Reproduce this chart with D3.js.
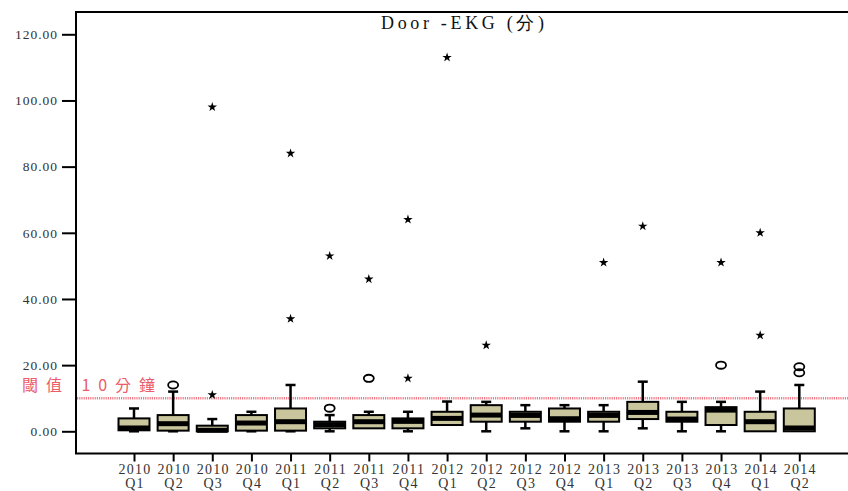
<!DOCTYPE html>
<html>
<head>
<meta charset="utf-8">
<script src="https://cdn.jsdelivr.net/npm/d3@7"></script>
<style>
  body { margin: 0; background: #fff; }
  svg { display: block; }
</style>
</head>
<body>
<svg id="chart"></svg>
<script>
// quarters on the x axis
const years    = ["2010","2010","2010","2010","2011","2011","2011","2011","2012","2012","2012","2012","2013","2013","2013","2013","2014","2014"];
const quarters = ["Q1","Q2","Q3","Q4","Q1","Q2","Q3","Q4","Q1","Q2","Q3","Q4","Q1","Q2","Q3","Q4","Q1","Q2"];

// box statistics, minutes
const whiskerLow  = [0,   0,   0,   0,   0,   0,   0.9, 0,   1.9, 0,   0.9, 0,   0,   0.9, 0,   0,   0,   0];
const q1          = [0.3, 0.2, 0,   0.2, 0.2, 0.9, 0.9, 0.9, 1.9, 2.9, 2.9, 2.9, 2.9, 3.7, 2.9, 1.9, 0,   0];
const medians     = [1,   2.3, 0.3, 2.5, 2.9, 2,   2.9, 3,   3.9, 4.9, 4.8, 3.8, 4.8, 5.7, 3.7, 6.4, 2.9, 1];
const q3          = [3.9, 4.9, 1.7, 4.9, 6.9, 2.9, 4.9, 3.9, 5.9, 7.9, 5.9, 6.9, 5.9, 8.9, 5.9, 7.3, 5.9, 6.9];
const whiskerHigh = [6.9, 12,  3.7, 5.9, 14,  4.9, 5.9, 5.9, 9,   8.9, 7.9, 7.9, 7.9, 15,  8.9, 8.9, 12,  14];

// outliers (circles) and extremes (stars)
const outliers = [[], [14], [], [], [], [7], [16], [], [], [], [], [], [], [], [], [20], [], [17.7, 19.5]];
const extremes = [[], [], [11, 98], [], [34, 84], [53], [46], [16, 64], [113], [26], [], [], [51], [62], [], [51], [29, 60], []];

const yTicks = [0, 20, 40, 60, 80, 100, 120];
const threshold = 10;
const titleText = "Door -EKG (分)";
const thresholdText = "閾值 10分鐘";

const width = 848, height = 491;
const plotLeft = 76, plotTop = 12, plotBottom = 453.5;

const svg = d3.select("#chart").attr("width", width).attr("height", height);

const cats = years.map((y, i) => y + " " + quarters[i]);
const rows = cats.map((c, i) => ({
  cat: c, year: years[i], q: quarters[i],
  lo: whiskerLow[i], q1: q1[i], med: medians[i], q3: q3[i], hi: whiskerHigh[i],
  out: outliers[i], ext: extremes[i]
}));

const x = d3.scalePoint().domain(cats).range([134, 799.3]);
const y = d3.scaleLinear().domain([0, 120]).range([431.3, 34.3]);

const boxW = 31, capW = 10;
const serif = "'Liberation Serif', 'Times New Roman', serif";

// frame (right edge falls off the page)
svg.append("path")
  .attr("d", `M${width + 5},${plotTop}H${plotLeft}V${plotBottom}H${width + 5}`)
  .attr("fill", "none").attr("stroke", "#000").attr("stroke-width", 2);

// y axis
const yAxis = svg.append("g")
  .attr("transform", `translate(${plotLeft},0)`)
  .call(d3.axisLeft(y).tickValues(yTicks).tickFormat(d3.format(".2f")).tickSize(14).tickPadding(4));
yAxis.select(".domain").remove();
yAxis.selectAll(".tick line").attr("stroke", "#000").attr("stroke-width", 2);
yAxis.selectAll(".tick text")
  .attr("fill", "#333")
  .style("font-family", serif)
  .style("font-size", "13.5px")
  .style("letter-spacing", "1px");

// x axis
const xAxis = svg.append("g")
  .attr("transform", `translate(0,${plotBottom})`)
  .call(d3.axisBottom(x).tickSize(8).tickFormat(""));
xAxis.select(".domain").remove();
xAxis.selectAll(".tick line").attr("stroke", "#000").attr("stroke-width", 2);
xAxis.selectAll(".tick text").remove();

const xl = svg.append("g")
  .style("font-family", serif)
  .style("font-size", "14px")
  .style("letter-spacing", "1.3px")
  .attr("fill", "#333");
rows.forEach(d => {
  const t = xl.append("text").attr("text-anchor", "middle");
  t.append("tspan").attr("x", x(d.cat) + 1).attr("y", 474).text(d.year);
  t.append("tspan").attr("x", x(d.cat) + 1).attr("y", 488).text(d.q);
});

// threshold line
svg.append("line")
  .attr("x1", plotLeft + 1).attr("x2", width)
  .attr("y1", y(threshold)).attr("y2", y(threshold))
  .attr("stroke", "#f07c88").attr("stroke-width", 2.5)
  .attr("stroke-dasharray", "1.2,1");

svg.append("text")
  .attr("x", 22).attr("y", 391)
  .attr("fill", "#ec5c6a")
  .attr("textLength", 133).attr("lengthAdjust", "spacing")
  .style("font-family", "'Noto Sans CJK TC', sans-serif")
  .style("font-size", "16px")
  .text(thresholdText);

// boxes
const g = svg.append("g");
const box = g.selectAll(".box").data(rows).join("g").attr("class", "box");

box.append("line")
  .attr("x1", d => x(d.cat)).attr("x2", d => x(d.cat))
  .attr("y1", d => y(d.hi)).attr("y2", d => y(d.q3))
  .attr("stroke", "#000").attr("stroke-width", 2.5);
box.append("line")
  .attr("x1", d => x(d.cat)).attr("x2", d => x(d.cat))
  .attr("y1", d => y(d.q1)).attr("y2", d => y(d.lo))
  .attr("stroke", "#000").attr("stroke-width", 2.5);
box.append("line")
  .attr("x1", d => x(d.cat) - capW / 2).attr("x2", d => x(d.cat) + capW / 2)
  .attr("y1", d => y(d.hi)).attr("y2", d => y(d.hi))
  .attr("stroke", "#000").attr("stroke-width", 2.5);
box.filter(d => d.lo < d.q1).append("line")
  .attr("x1", d => x(d.cat) - capW / 2).attr("x2", d => x(d.cat) + capW / 2)
  .attr("y1", d => y(d.lo)).attr("y2", d => y(d.lo))
  .attr("stroke", "#000").attr("stroke-width", 2.5);

box.append("rect")
  .attr("x", d => x(d.cat) - boxW / 2)
  .attr("width", boxW)
  .attr("y", d => y(d.q3))
  .attr("height", d => y(d.q1) - y(d.q3))
  .attr("fill", "#c9c59c")
  .attr("stroke", "#000").attr("stroke-width", 2);

box.append("line")
  .attr("x1", d => x(d.cat) - boxW / 2).attr("x2", d => x(d.cat) + boxW / 2)
  .attr("y1", d => y(d.med)).attr("y2", d => y(d.med))
  .attr("stroke", "#000").attr("stroke-width", 5);

// outliers
box.selectAll(".out").data(d => d.out.map(v => ({ cat: d.cat, v }))).join("ellipse")
  .attr("class", "out")
  .attr("cx", d => x(d.cat)).attr("cy", d => y(d.v))
  .attr("rx", 5).attr("ry", 3.6)
  .attr("fill", "none").attr("stroke", "#000").attr("stroke-width", 1.8);

// extremes
box.selectAll(".ext").data(d => d.ext.map(v => ({ cat: d.cat, v }))).join("path")
  .attr("class", "ext")
  .attr("transform", d => `translate(${x(d.cat)},${y(d.v)})`)
  .attr("d", d3.symbol(d3.symbolStar).size(28))
  .attr("fill", "#000");

// title
svg.append("text")
  .attr("x", 381).attr("y", 29)
  .attr("textLength", 163).attr("lengthAdjust", "spacing")
  .style("font-family", serif)
  .style("font-size", "18px")
  .attr("fill", "#111")
  .text(titleText);
</script>
</body>
</html>
